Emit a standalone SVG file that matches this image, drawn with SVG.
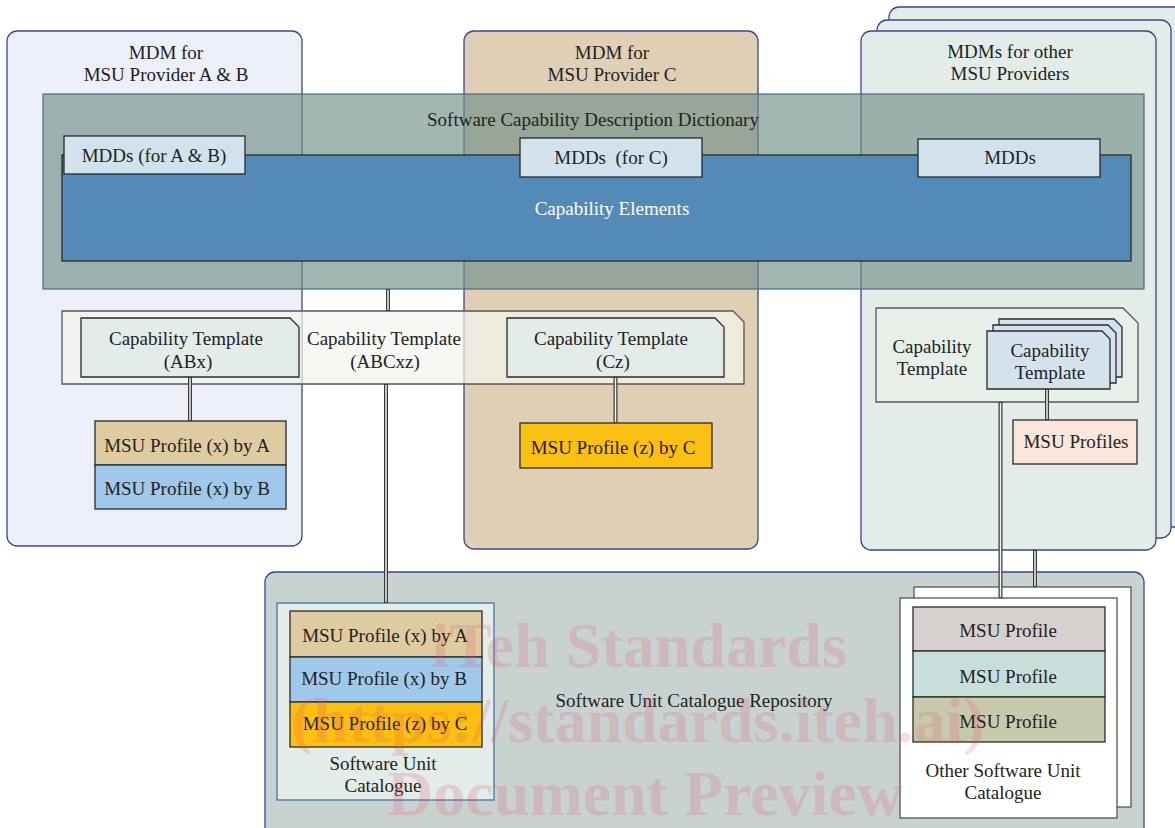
<svg xmlns="http://www.w3.org/2000/svg" width="1175" height="828" viewBox="0 0 1175 828">
<style>
  text { font-family: "Liberation Serif", "Times New Roman", serif; font-size: 19px; fill: #222; text-anchor: middle; }
  .cont { stroke: #3a4590; stroke-width: 1.3; }
  .box { stroke: #2a2a2a; stroke-width: 1.3; }
  .dbl-o { fill: none; stroke: #3a3a3a; stroke-width: 4; }
  .dbl-i { fill: none; stroke: #f4f4f4; stroke-width: 1.5; }
  .wm { font-family: "Liberation Serif", "Times New Roman", serif; font-weight: bold; font-size: 64px; fill: #e65064; fill-opacity: 0.2; }
</style>

<!-- Containers (MDMs) -->
<g id="mdm-ab">
  <rect class="cont" x="7" y="31" width="295" height="515" rx="10" fill="#eceff7"/>
  <text x="166" y="59">MDM for</text>
  <text x="166" y="81">MSU Provider A &amp; B</text>
</g>
<g id="mdm-c">
  <rect class="cont" x="464" y="31" width="294" height="518" rx="10" fill="#e0cfb5"/>
  <text x="612" y="59">MDM for</text>
  <text x="612" y="81">MSU Provider C</text>
</g>
<g id="mdm-others">
  <rect class="cont" x="889" y="7" width="300" height="520" rx="10" fill="#e3ece9"/>
  <rect class="cont" x="877" y="20" width="294" height="518" rx="10" fill="#e3ece9"/>
  <rect class="cont" x="861" y="31" width="295" height="519" rx="10" fill="#e3ece9"/>
  <text x="1010" y="58">MDMs for other</text>
  <text x="1010" y="80">MSU Providers</text>
</g>

<!-- Dictionary -->
<g id="dictionary">
  <rect x="43" y="94" width="1101" height="195" fill="#72908a" fill-opacity="0.66" stroke="#4c6a8c" stroke-width="1.2"/>
  <text x="593" y="126">Software Capability Description Dictionary</text>
</g>
<g id="capability-elements">
  <rect class="box" x="62" y="155" width="1069" height="106" fill="#548ab8"/>
  <text x="612" y="215" style="fill:#ffffff">Capability Elements</text>
</g>
<g id="mdds-ab">
  <rect class="box" x="64" y="136" width="181" height="38" fill="#d2e2ec"/>
  <text x="154" y="162">MDDs (for A &amp; B)</text>
</g>
<g id="mdds-c">
  <rect class="box" x="520" y="138" width="182" height="39" fill="#d2e2ec"/>
  <text x="611" y="164" xml:space="preserve">MDDs  (for C)</text>
</g>
<g id="mdds-other">
  <rect class="box" x="918" y="139" width="182" height="38" fill="#d2e2ec"/>
  <text x="1010" y="164">MDDs</text>
</g>

<!-- Capability template band -->
<g id="ct-abcxz">
  <path d="M62,311 H733 L744,322 V384 H62 Z" fill="#f2f4ee" fill-opacity="0.72" stroke="#555" stroke-width="1.3"/>
  <text x="384" y="345">Capability Template</text>
  <text x="385" y="368">(ABCxz)</text>
</g>
<g id="ct-abx">
  <path class="box" d="M81,318 H290 L299,327 V377 H81 Z" fill="#e3ece9"/>
  <text x="186" y="345">Capability Template</text>
  <text x="188" y="368">(ABx)</text>
</g>
<g id="ct-cz">
  <path class="box" d="M507,318 H715 L724,327 V377 H507 Z" fill="#e3ece9"/>
  <text x="611" y="345">Capability Template</text>
  <text x="613" y="368">(Cz)</text>
</g>

<!-- MSU profiles in MDMs -->
<g id="profile-xa">
  <rect class="box" x="95" y="421" width="191" height="44" fill="#dfcba1"/>
  <text x="187" y="452">MSU Profile (x) by A</text>
</g>
<g id="profile-xb">
  <rect class="box" x="95" y="465" width="191" height="44" fill="#9fc8ea"/>
  <text x="187" y="495">MSU Profile (x) by B</text>
</g>
<g id="profile-zc">
  <rect class="box" x="520" y="423" width="192" height="45" fill="#fbbf12"/>
  <text x="613" y="454">MSU Profile (z) by C</text>
</g>

<!-- Right side templates -->
<g id="ct-other">
  <path d="M876,308 H1123 L1138,323 V402 H876 Z" fill="#e8efe9" stroke="#555" stroke-width="1.3"/>
  <text x="932" y="353">Capability</text>
  <text x="932" y="375">Template</text>
</g>
<g id="ct-other-stack">
  <path class="box" d="M999,319 H1114 L1122,327 V377 H999 Z" fill="#d3e2ed"/>
  <path class="box" d="M993,325 H1108 L1116,333 V383 H993 Z" fill="#d3e2ed"/>
  <path class="box" d="M987,331 H1102 L1110,339 V389 H987 Z" fill="#d3e2ed"/>
  <text x="1050" y="357">Capability</text>
  <text x="1050" y="379">Template</text>
</g>
<g id="profiles-other">
  <rect class="box" x="1013" y="420" width="124" height="44" fill="#fae5da"/>
  <text x="1076" y="448">MSU Profiles</text>
</g>

<!-- Repository -->
<g id="repository">
  <rect class="cont" x="265" y="572" width="879" height="280" rx="10" fill="#c8d3d1"/>
  <text x="694" y="707">Software Unit Catalogue Repository</text>
</g>
<g id="catalogue">
  <rect x="277" y="603" width="217" height="197" fill="#e3ece9" stroke="#4a72a4" stroke-width="1.3"/>
  <rect class="box" x="290" y="611" width="192" height="46" fill="#dfcba1"/>
  <rect class="box" x="290" y="657" width="192" height="45" fill="#9fc8ea"/>
  <rect class="box" x="290" y="702" width="192" height="45" fill="#fbbf12"/>
  <text x="385" y="642">MSU Profile (x) by A</text>
  <text x="384" y="685">MSU Profile (x) by B</text>
  <text x="385" y="730">MSU Profile (z) by C</text>
  <text x="383" y="770">Software Unit</text>
  <text x="383" y="792">Catalogue</text>
</g>
<g id="other-catalogue">
  <rect x="914" y="587" width="217" height="220" fill="#ffffff" stroke="#555" stroke-width="1.3"/>
  <rect x="900" y="598" width="217" height="220" fill="#ffffff" stroke="#555" stroke-width="1.3"/>
  <rect class="box" x="913" y="607" width="192" height="44" fill="#d6d0ce"/>
  <rect class="box" x="913" y="651" width="192" height="46" fill="#c8dedb"/>
  <rect class="box" x="913" y="697" width="192" height="45" fill="#c7c9ad"/>
  <text x="1008" y="637">MSU Profile</text>
  <text x="1008" y="683">MSU Profile</text>
  <text x="1008" y="728">MSU Profile</text>
  <text x="1003" y="777">Other Software Unit</text>
  <text x="1003" y="799">Catalogue</text>
</g>

<!-- Connectors (double lines) -->
<g id="connectors">
  <path class="dbl-o" d="M190,377 V421 M388,289 V311 M386,384 V603 M615.5,377 V423 M1047,389 V420 M1000.5,402 V598 M1035,550 V587"/>
  <path class="dbl-i" d="M190,378 V420 M388,290 V310 M386,385 V602 M615.5,378 V422 M1047,390 V419 M1000.5,403 V597 M1035,551 V586"/>
</g>

<!-- Watermark -->
<g id="watermark">
  <text class="wm" x="639" y="667">iTeh Standards</text>
  <text class="wm" x="638" y="742">(https://standards.iteh.ai)</text>
  <text class="wm" x="645" y="815">Document Preview</text>
</g>
</svg>
